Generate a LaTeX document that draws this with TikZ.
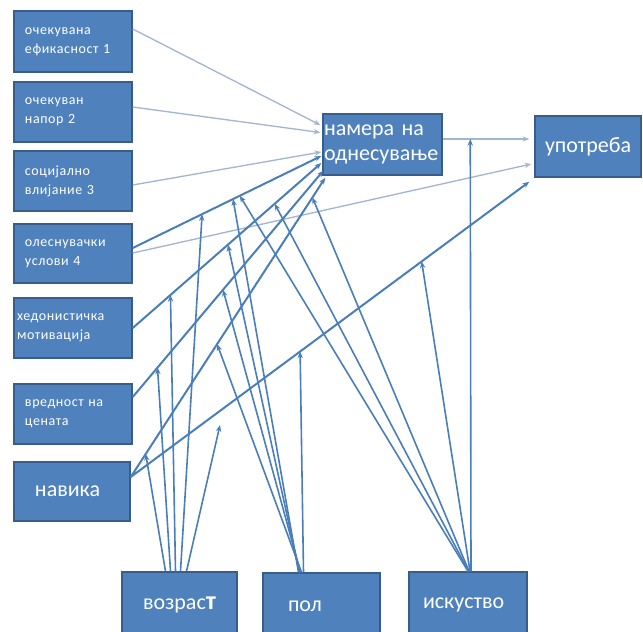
\documentclass[tikz,border=0pt]{standalone}
\usepackage{fontspec}
\setmainfont{Carlito}
\newfontfamily\widefont[LetterSpace=4]{Carlito}
\usetikzlibrary{calc,arrows.meta}
\definecolor{boxfill}{HTML}{4F81BD}
\definecolor{boxedge}{HTML}{385D8A}
\definecolor{pathblue}{HTML}{4A7EBB}
\definecolor{faint}{HTML}{A3B6CF}
\newcommand{\smalltxt}{\widefont\fontsize{10.5pt}{14.25pt}\selectfont}
\newcommand{\bigtxt}{\fontsize{16.5pt}{18.75pt}\selectfont}
\begin{document}
\begin{tikzpicture}[x=0.75pt,y=-0.75pt,
  box/.style n args={4}{draw=boxedge, line width=1.1pt, fill=boxfill, text=white,
    align=left, inner ysep=0pt, minimum width=#1, minimum height=#2,
    inner xsep=#3, text width=#4},
  tip/.style={-{Stealth[length=5pt,width=4pt]}},
  strong/.style={tip, draw=pathblue, line width=1.5pt},
  weak/.style={tip, draw=faint, line width=1pt},
  moder/.style={tip, draw=pathblue, line width=1.2pt}]
\useasboundingbox (0,0) rectangle (643,632);
\clip (0,0) rectangle (643,632);

% predictor boxes on the left
\node[box={88.5pt}{45.75pt}{8.25pt}{72pt}, font=\smalltxt] (b1) at (73,41.5) {очекувана\\ефикасност 1};
\node[box={88.5pt}{45pt}{8.25pt}{72pt}, font=\smalltxt] (b2) at (73,112) {очекуван\\напор 2};
\node[box={88.5pt}{45pt}{8.25pt}{72pt}, font=\smalltxt] (b3) at (73,181) {социјално\\влијание 3};
\node[box={88.5pt}{44.25pt}{8.25pt}{72pt}, font=\smalltxt] (b4) at (73,253.5) {олеснувачки\\услови 4};
\node[box={88.5pt}{45pt}{2.25pt}{84pt}, font=\smalltxt] (b5) at (73,328) {хедонистичка\\мотивација};
\node[box={88.5pt}{45pt}{8.25pt}{72pt}, font=\smalltxt] (b6) at (73,414) {вредност на\\цената};
\node[box={87pt}{44.25pt}{15.75pt}{55.5pt}, font=\bigtxt] (nav) at (72,491.5) {навика};

% intention and use
\node[box={89.25pt}{45.75pt}{0.75pt}{87.75pt}, font=\bigtxt] (nam) at (382.5,144.5) {намера на\\однесување};
\node[box={79.5pt}{45.75pt}{7.5pt}{64.5pt}, font=\bigtxt] (upo) at (588,146.5) {употреба};

% moderators along the bottom
\node[box={86.25pt}{49.5pt}{15.75pt}{54.75pt}, font=\bigtxt] (voz) at (179.5,605) {возрас{\fontsize{19.5pt}{19.5pt}\selectfont\bfseries т}};
\node[box={87.75pt}{49.5pt}{18.75pt}{50.25pt}, font=\bigtxt] (pol) at (321.5,606) {пол};
\node[box={88.5pt}{49.5pt}{10.5pt}{67.5pt}, font=\bigtxt] (isk) at (468,605) {искуство};

% end points of the main paths
\coordinate (p1s) at ($(b1.east)+(0,-12.5)$);
\coordinate (p1e) at ($(nam.west)+(-2,-19.5)$);
\coordinate (p2s) at ($(b2.east)+(0,-5)$);
\coordinate (p2e) at ($(nam.west)+(-2,-12)$);
\coordinate (p3s) at ($(b3.east)+(0,4)$);
\coordinate (p3e) at ($(nam.west)+(-1,7.5)$);
\coordinate (p4s) at ($(b4.east)+(0,-5.5)$);
\coordinate (p4e) at ($(nam.west)+(-1,11.5)$);
\coordinate (q4s) at ($(b4.east)+(0,-0.5)$);
\coordinate (q4e) at ($(upo.west)+(-3,17.5)$);
\coordinate (p5s) at ($(b5.east)+(0,0)$);
\coordinate (p5e) at ($(nam.west)+(-1,18.5)$);
\coordinate (p6s) at ($(b6.east)+(0,-17)$);
\coordinate (p6e) at ($(nam.south west)+(1,-5)$);
\coordinate (p7s) at ($(nav.east)+(0,-14.5)$);
\coordinate (p7e) at ($(nam.south west)+(3,2)$);
\coordinate (q7e) at ($(upo.south west)+(-5,4)$);
\coordinate (p8s) at ($(nam.east)+(0,-5.5)$);
\coordinate (p8e) at ($(upo.west)+(-5,-7.5)$);

% main paths
\draw[weak] (p1s) -- (p1e);
\draw[weak] (p2s) -- (p2e);
\draw[weak] (p3s) -- (p3e);
\draw[strong] (p4s) -- (p4e);
\draw[weak] (q4s) -- (q4e);
\draw[strong] (p5s) -- (p5e);
\draw[strong] (p6s) -- (p6e);
\draw[strong] (p7s) -- (p7e);
\draw[strong] (p7s) -- (q7e);
\draw[weak] (p8s) -- (p8e);

% points on the paths hit by the moderating arrows
\coordinate (mv1) at ($(p7s)!0.077!(p7e)$);
\coordinate (mv2) at ($(p6s)!0.13!(p6e)$);
\coordinate (mv3) at ($(p5s)!0.2!(p5e)$);
\coordinate (mv4) at ($(p4s)!0.368!(p4e)$);
\coordinate (mv5) at (220,425);
\coordinate (mp1) at ($(p4s)!0.532!(p4e)$);
\coordinate (mp2) at ($(p5s)!0.505!(p5e)$);
\coordinate (mp3) at ($(p6s)!0.474!(p6e)$);
\coordinate (mp4) at ($(p7s)!0.444!(p7e)$);
\coordinate (mp5) at ($(p7s)!0.425!(q7e)$);
\coordinate (mi1) at ($(p4s)!0.568!(p4e)$);
\coordinate (mi2) at ($(p5s)!0.753!(p5e)$);
\coordinate (mi3) at ($(p7s)!0.934!(p7e)$);
\coordinate (mi4) at ($(p7s)!0.73!(q7e)$);
\coordinate (mi5) at ($(p8s)!0.318!(p8e)$);

% age
\draw[moder] ($(voz.north)+(-14,0)$) -- (mv1);
\draw[moder] ($(voz.north)+(-9,0)$) -- (mv2);
\draw[moder] ($(voz.north)+(-4,0)$) -- (mv3);
\draw[moder] ($(voz.north)+(1,0)$) -- (mv4);
\draw[moder] ($(voz.north)+(7,0)$) -- (mv5);
% gender
\draw[moder] ($(pol.north)+(-23,0)$) -- (mp1);
\draw[moder] ($(pol.north)+(-22,0)$) -- (mp2);
\draw[moder] ($(pol.north)+(-21,0)$) -- (mp3);
\draw[moder] ($(pol.north)+(-20,0)$) -- (mp4);
\draw[moder] ($(pol.north)+(-18,0)$) -- (mp5);
% experience
\draw[moder] ($(isk.north)+(0,0)$) -- (mi1);
\draw[moder] ($(isk.north)+(0.5,0)$) -- (mi2);
\draw[moder] ($(isk.north)+(1,0)$) -- (mi3);
\draw[moder] ($(isk.north)+(2,0)$) -- (mi4);
\draw[moder] ($(isk.north)+(3,0)$) -- (mi5);
\end{tikzpicture}
\end{document}
